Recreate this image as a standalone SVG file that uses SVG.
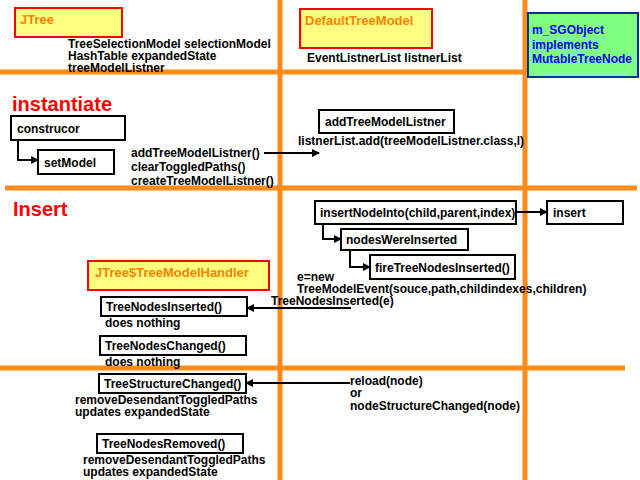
<svg xmlns="http://www.w3.org/2000/svg" width="640" height="480" viewBox="0 0 640 480">
<style>
text{font-family:"Liberation Sans",Arial,sans-serif;font-size:12px;font-weight:bold;fill:#000}
.h{stroke:#ff8c1a;stroke-width:5}
.b{fill:#fff;stroke:#000;stroke-width:2}
.y{fill:#ffff80;stroke:#f00;stroke-width:2}
.yt{fill:#ff8000;font-size:13px}
.big{fill:#f00;font-size:20px}
.c{stroke:#000;stroke-width:2;fill:none}
</style>
<defs><marker id="a" markerWidth="8" markerHeight="8" refX="7" refY="4" orient="auto" markerUnits="userSpaceOnUse"><path d="M0,0L8,4L0,8z" fill="#000"/></marker></defs>
<rect width="640" height="480" fill="#fff"/>
<g id="lanes">
<line class="h" x1="280" y1="0" x2="280" y2="480"/>
<line class="h" x1="525" y1="0" x2="525" y2="480"/>
<line class="h" x1="0" y1="72" x2="637" y2="72"/>
<line class="h" x1="5" y1="188" x2="637" y2="188"/>
<line class="h" x1="0" y1="368" x2="625" y2="368"/>
</g>
<g id="JTree"><rect class="y" x="15" y="8" width="107" height="29"/><text class="yt" x="20" y="24">JTree</text>
<text x="68" y="48">TreeSelectionModel selectionModel</text><text x="68" y="60">HashTable expandedState</text><text x="68" y="72">treeModelListner</text></g>
<g id="DefaultTreeModel"><rect class="y" x="300" y="9" width="132" height="39"/><text class="yt" x="305" y="25">DefaultTreeModel</text>
<text x="307" y="62">EventListnerList listnerList</text></g>
<g id="SGObject"><rect x="528" y="13" width="110" height="64" fill="#80ff80" stroke="#003399" stroke-width="2"/>
<text x="532" y="34" style="fill:#00f">m_SGObject</text><text x="532" y="49" style="fill:#00f">implements</text><text x="532" y="63" style="fill:#00f">MutableTreeNode</text></g>
<text class="big" x="12" y="111">instantiate</text>
<text class="big" x="13" y="216">Insert</text>
<g id="construcor"><rect class="b" x="11" y="116" width="114" height="24"/><text x="17" y="133">construcor</text></g>
<g id="setModel"><rect class="b" x="38" y="150" width="76" height="24"/><text x="44" y="167">setModel</text></g>
<text x="131" y="157">addTreeModelListner()</text><text x="131" y="171">clearToggledPaths()</text><text x="131" y="185">createTreeModelListner()</text>
<g id="addTML"><rect class="b" x="319" y="110" width="135" height="23"/><text x="325" y="126">addTreeModelListner</text></g>
<text x="298" y="145">listnerList.add(treeModelListner.class,l)</text>
<g id="insertNodeInto"><rect class="b" x="315" y="201" width="201" height="23"/><text x="320" y="217">insertNodeInto(child,parent,index)</text></g>
<g id="insert"><rect class="b" x="547" y="201" width="76" height="23"/><text x="553" y="217">insert</text></g>
<g id="nodesWereInserted"><rect class="b" x="341" y="229" width="127" height="21"/><text x="346" y="244">nodesWereInserted</text></g>
<g id="fire"><rect class="b" x="370" y="255" width="145" height="24"/><text x="375" y="272">fireTreeNodesInserted()</text></g>
<text x="297" y="281">e=new</text><text x="297" y="293">TreeModelEvent(souce,path,childindexes,children)</text><text x="271" y="305">TreeNodesInserted(e)</text>
<g id="Handler"><rect class="y" x="88" y="261" width="181" height="29"/><text class="yt" x="95" y="277">JTree$TreeModelHandler</text></g>
<g id="TNI"><rect class="b" x="101" y="297" width="146" height="19"/><text x="106" y="311">TreeNodesInserted()</text><text x="105" y="327">does nothing</text></g>
<g id="TNC"><rect class="b" x="100" y="336" width="146" height="19"/><text x="105" y="350">TreeNodesChanged()</text><text x="105" y="366">does nothing</text></g>
<g id="TSC"><rect class="b" x="99" y="374" width="147" height="19"/><text x="104" y="388">TreeStructureChanged()</text><text x="75" y="404">removeDesendantToggledPaths</text><text x="75" y="416">updates expandedState</text></g>
<g id="TNR"><rect class="b" x="97" y="434" width="146" height="19"/><text x="102" y="448">TreeNodesRemoved()</text><text x="83" y="464">removeDesendantToggledPaths</text><text x="83" y="476">updates expandedState</text></g>
<text x="350" y="385">reload(node)</text><text x="350" y="397">or</text><text x="350" y="410">nodeStructureChanged(node)</text>
<g id="connectors">
<path class="c" d="M18,140V160H38" marker-end="url(#a)"/>
<path class="c" d="M264,153H319" marker-end="url(#a)"/>
<path class="c" d="M516,212H547" marker-end="url(#a)"/>
<path class="c" d="M323,224V239H341" marker-end="url(#a)"/>
<path class="c" d="M350,250V267H370" marker-end="url(#a)"/>
<path class="c" d="M351,308H247" marker-end="url(#a)"/>
<path class="c" d="M350,383H246" marker-end="url(#a)"/>
</g>
</svg>
